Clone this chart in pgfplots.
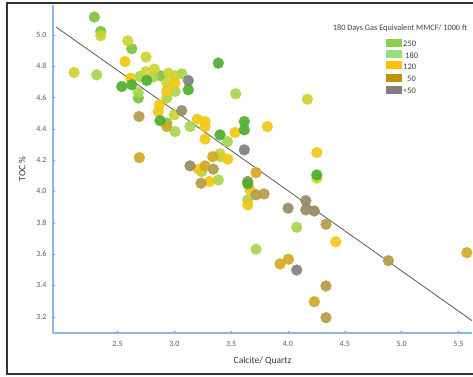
\documentclass[border=0pt]{standalone}
\usepackage{pgfplots}
\pgfplotsset{compat=1.18}
\usepackage{fontspec}
\setmainfont{Carlito}
\definecolor{cDG}{HTML}{4DAF2C}
\definecolor{cG}{HTML}{7CC241}
\definecolor{cLG}{HTML}{A6D64E}
\definecolor{cYG}{HTML}{CDD434}
\definecolor{cY}{HTML}{F0C814}
\definecolor{cGO}{HTML}{D2A824}
\definecolor{cOL}{HTML}{B49C45}
\definecolor{cOG}{HTML}{978B63}
\definecolor{cGR}{HTML}{808080}
\definecolor{axblue}{HTML}{8DB4E2}
\definecolor{txt}{HTML}{595959}
\definecolor{l250}{HTML}{8CCF4A}
\definecolor{l180}{HTML}{92E07E}
\definecolor{l120}{HTML}{FFC000}
\definecolor{l50}{HTML}{BF9000}
\definecolor{l0}{HTML}{808080}
\pgfplotsset{pt/.style={color=#1, only marks, mark=*, mark size=5.4bp, mark options={solid, draw=#1, fill=#1}, opacity=0.92}}
\begin{document}
\begin{tikzpicture}[x=1bp,y=1bp]
\useasboundingbox (0,0) rectangle (473,376);
\draw[line width=1.5bp, black!80] (473,373) -- (7,373) -- (7,2) -- (473,2);
\begin{axis}[
  at={(53bp,43bp)}, anchor=south west,
  width=419bp, height=328bp, scale only axis,
  xmin=1.932, xmax=5.62, ymin=3.096, ymax=5.19,
  axis lines*=left,
  axis line style={axblue, line width=1.6bp},
  xtick={2.5,3,3.5,4,4.5,5,5.5},
  ytick={3.2,3.4,3.6,3.8,4.0,4.2,4.4,4.6,4.8,5.0},
  major tick length=2bp,
  tick style={black!50, line width=0.4bp},
  /pgf/number format/.cd, fixed, fixed zerofill, precision=1, assume math mode=true,
  /pgfplots/.cd,
  ticklabel style={font=\fontsize{8}{9}\selectfont, text=txt},
  yticklabel style={xshift=-3bp},
  xticklabel style={yshift=-5bp},
  xlabel={Calcite/ Quartz},
  ylabel={TOC \%},
  label style={font=\fontsize{9.5}{11}\selectfont, text=black!80},
  xlabel style={yshift=-3bp},
  ylabel style={yshift=4bp},
  clip=false,
]
\addplot[pt=cG] coordinates {
(2.296,5.113) (2.352,5.021) (2.625,4.911) (2.683,4.596) (2.880,4.738) (2.933,4.436)};
\addplot[pt=cLG] coordinates {
(2.317,4.744) (2.698,4.734) (2.815,4.730) (3.065,4.751) (2.683,4.631) (2.933,4.596)
(3.006,4.638) (3.540,4.623) (3.006,4.382) (3.138,4.414) (3.467,4.318) (3.241,4.126)
(3.408,4.222) (3.387,4.073) (3.646,3.946) (4.077,3.771) (3.719,3.631)};
\addplot[pt=cYG] coordinates {
(2.117,4.759) (2.352,4.994) (2.590,4.962) (2.751,4.858) (2.751,4.765) (2.824,4.781)
(2.947,4.755) (3.006,4.738) (2.933,4.691) (3.000,4.489) (3.402,4.240) (4.171,4.589)
(4.254,4.084)};
\addplot[pt=cY] coordinates {
(2.566,4.829) (2.616,4.723) (2.933,4.638) (3.006,4.691) (2.868,4.553) (2.859,4.510)
(3.202,4.461) (3.270,4.446) (3.270,4.414) (3.270,4.334) (3.534,4.376) (3.211,4.142)
(3.308,4.063) (3.470,4.206) (3.666,4.010) (3.646,3.914) (4.254,4.248) (4.421,3.679)
(3.819,4.414)};
\addplot[pt=cGO] coordinates {
(2.692,4.216) (3.270,4.163) (3.338,4.222) (3.719,4.120) (3.930,3.537) (4.004,3.567)
(4.232,3.296) (5.574,3.609) (2.933,4.414)};
\addplot[pt=cOL] coordinates {
(2.689,4.478) (3.235,4.052) (3.343,4.142) (4.335,3.396) (4.335,3.194) (3.719,3.978)
(3.790,3.984) (4.884,3.558) (4.335,3.790)};
\addplot[pt=cOG] coordinates {
(3.065,4.516) (3.138,4.163) (4.001,3.893) (4.157,3.941) (4.157,3.882) (4.232,3.875)
(3.646,4.063)};
\addplot[pt=cDG] coordinates {
(2.537,4.670) (2.625,4.681) (2.874,4.452) (3.616,4.446) (3.616,4.393) (4.254,4.105)
(3.387,4.819) (2.757,4.708) (3.123,4.649) (3.402,4.361) (3.646,4.048)};
\addplot[pt=cGR] coordinates {
(3.123,4.708) (3.616,4.265) (4.077,3.498)};
\addplot[no marks, sharp plot, black!65, line width=0.8bp] coordinates {(1.96,5.049) (5.62,3.175)};
\end{axis}
\node[font=\fontsize{8.3}{9}\selectfont, text=black!75] at (400,348) {180 Days Gas Equivalent MMCF/ 1000 ft};
\fill[l250] (386,329) rectangle (402,337);
\fill[l180] (386,318.5) rectangle (402,326.5);
\fill[l120] (386,307) rectangle (402,315);
\fill[l50] (386,294) rectangle (402,302);
\fill[l0] (386,282) rectangle (402,290);
\begin{scope}[every node/.style={font=\fontsize{8.5}{9}\selectfont, text=black!75, anchor=west, inner sep=0pt}]
\node at (403,332) {250};
\node at (405,320) {180};
\node at (403,309) {120};
\node at (407,297) {50};
\node at (403,285) {<50};
\end{scope}
\end{tikzpicture}
\end{document}
